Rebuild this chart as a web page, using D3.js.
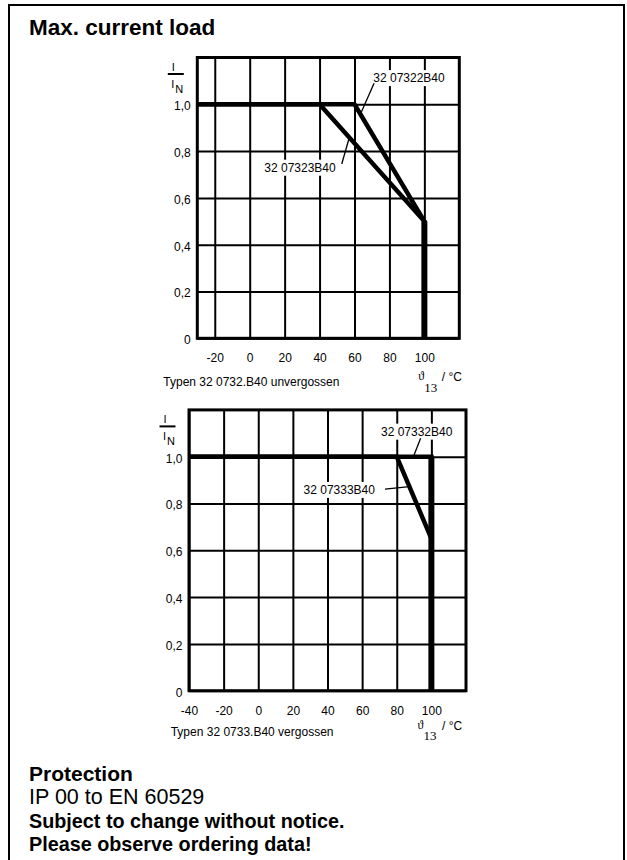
<!DOCTYPE html>
<html>
<head>
<meta charset="utf-8">
<script src="https://cdn.jsdelivr.net/npm/d3@7"></script>
<style>
  body { margin: 0; background: #fff; }
  text { font-family: "Liberation Sans", Arial, sans-serif; fill: #000; }
</style>
</head>
<body>
<svg id="sheet" width="627" height="860"></svg>
<script>
// values
const yTicks = [0, 0.2, 0.4, 0.6, 0.8, 1.0]
const tempTicksA = [-20, 0, 20, 40, 60, 80, 100]
const tempTicksB = [-40, -20, 0, 20, 40, 60, 80, 100]

const curve07322 = [[-30, 1], [60, 1], [100, 0.5], [100, 0]]
const curve07323 = [[-30, 1], [40, 1], [100, 0.5], [100, 0]]
const curve07332 = [[-40, 1], [100, 1], [100, 0]]
const curve07333 = [[-40, 1], [80, 1], [100, 0.65], [100, 0]]

// type labels with their leader lines (data units)
const notesA = [
  {name: "32 07322B40", at: [91.2, 1.112], from: [71.2, 1.09], to: [63.5, 0.96]},
  {name: "32 07323B40", at: [28.8, 0.729], from: [52.7, 0.745], to: [56.9, 0.855]}
]
const notesB = [
  {name: "32 07332B40", at: [91.5, 1.107], from: [93.8, 1.079], to: [89.6, 1.0]},
  {name: "32 07333B40", at: [46.8, 0.858], from: [73.2, 0.861], to: [87.3, 0.872]}
]

const footLines = [
  "Protection",
  "IP 00 to EN 60529",
  "Subject to change without notice.",
  "Please observe ordering data!"
]

const svg = d3.select("#sheet")

// outer box
svg.append("rect")
  .attr("x", 9).attr("y", 5)
  .attr("width", 615).attr("height", 900)
  .attr("fill", "none").attr("stroke", "#000").attr("stroke-width", 2)

svg.append("text")
  .attr("x", 29).attr("y", 35)
  .attr("font-size", 22.5).attr("font-weight", "bold")
  .text("Max. current load")

const fmt = d => d === 0 ? "0" : d3.format(".1f")(d).replace(".", ",")

function drawChart(cfg) {
  const x = d3.scaleLinear().domain(cfg.xDomain).range(cfg.xRange)
  const y = d3.scaleLinear().domain([0, 1.2]).range(cfg.yRange)
  const left = cfg.xRange[0], right = cfg.xRange[1]
  const top = cfg.yRange[1], bottom = cfg.yRange[0]
  const g = svg.append("g")

  // vertical grid + temperature labels
  const ax = g.append("g")
    .attr("transform", `translate(0,${bottom})`)
    .call(d3.axisBottom(x).tickValues(cfg.xTicks).tickSize(-(bottom - top)).tickPadding(15.5).tickFormat(d => d))
  ax.select(".domain").remove()
  ax.selectAll("line").attr("stroke", "#000").attr("stroke-width", 2)
  ax.selectAll("text").attr("font-size", 12).attr("font-family", null)

  // horizontal grid + I/IN labels
  const ay = g.append("g")
    .attr("transform", `translate(${left},0)`)
    .call(d3.axisLeft(y).tickValues(yTicks).tickSize(-(right - left)).tickPadding(6.5).tickFormat(fmt))
  ay.select(".domain").remove()
  ay.selectAll("line").attr("stroke", "#000").attr("stroke-width", 2)
  ay.selectAll("text").attr("font-size", 12).attr("font-family", null).attr("dy", "0.45em")

  // frame
  g.append("rect")
    .attr("x", x(cfg.xDomain[0])).attr("y", y(1.2))
    .attr("width", x(cfg.xDomain[1]) - x(cfg.xDomain[0]))
    .attr("height", y(0) - y(1.2))
    .attr("fill", "none").attr("stroke", "#000").attr("stroke-width", 3)

  // derating curves
  const line = d3.line().x(d => x(d[0])).y(d => y(d[1]))
  g.selectAll("path.curve").data(cfg.curves).join("path")
    .attr("class", "curve")
    .attr("d", line)
    .attr("fill", "none").attr("stroke", "#000")
    .attr("stroke-width", 4.5).attr("stroke-linejoin", "miter")
  g.append("line")
    .attr("x1", x(100)).attr("x2", x(100))
    .attr("y1", y(cfg.thickFrom)).attr("y2", y(0))
    .attr("stroke", "#000").attr("stroke-width", 6)

  // labels on white patches + leaders
  cfg.notes.forEach(n => {
    const t = g.append("text")
      .attr("x", x(n.at[0])).attr("y", y(n.at[1]))
      .attr("text-anchor", "middle").attr("dominant-baseline", "central")
      .attr("font-size", 12).text(n.name)
    const b = t.node().getBBox()
    g.insert("rect", () => t.node())
      .attr("x", b.x - 2).attr("y", b.y - 1)
      .attr("width", b.width + 4).attr("height", b.height + 2)
      .attr("fill", "#fff")
    g.append("line")
      .attr("x1", x(n.from[0])).attr("y1", y(n.from[1]))
      .attr("x2", x(n.to[0])).attr("y2", y(n.to[1]))
      .attr("stroke", "#000").attr("stroke-width", 1.3)
  })

  // I / IN
  g.append("text").attr("x", left - 24).attr("y", top + 13.5)
    .attr("text-anchor", "middle").attr("font-size", 11).text("I")
  g.append("line")
    .attr("x1", left - 29.5).attr("x2", left - 13.5)
    .attr("y1", top + 16.5).attr("y2", top + 16.5)
    .attr("stroke", "#000").attr("stroke-width", 2)
  const iN = g.append("text").attr("x", left - 26).attr("y", top + 30.5).attr("font-size", 11)
  iN.append("tspan").text("I")
  iN.append("tspan").attr("dx", 1).attr("dy", 4.5).text("N")

  // ϑ13 / °C as one text
  const u = g.append("text").attr("x", right - cfg.unit[0]).attr("y", bottom + cfg.unit[1])
  u.append("tspan").attr("font-family", "'Liberation Serif', serif").attr("font-size", 12).text("ϑ")
  u.append("tspan").attr("font-family", "'Liberation Serif', serif").attr("font-size", 13)
    .attr("dy", 11.5).text("13")
  u.append("tspan").attr("font-size", 12)
    .attr("x", right - cfg.unit[2]).attr("dy", -10.5).text("/ °C")

  g.append("text")
    .attr("x", left + cfg.caption[0]).attr("y", bottom + cfg.caption[1])
    .attr("font-size", 12).text(cfg.captionText)
}

drawChart({
  xDomain: [-30, 120], xRange: [197.3, 459.3], yRange: [338.3, 57.5],
  xTicks: tempTicksA, curves: [curve07322, curve07323], thickFrom: 0.5,
  notes: notesA, unit: [41, 42, 17.5],
  caption: [-34, 48], captionText: "Typen 32 0732.B40 unvergossen"
})

drawChart({
  xDomain: [-40, 120], xRange: [189, 466], yRange: [690.7, 409.9],
  xTicks: tempTicksB, curves: [curve07332, curve07333], thickFrom: 1.0,
  notes: notesB, unit: [48.5, 38, 24],
  caption: [-18.3, 45.5], captionText: "Typen 32 0733.B40 vergossen"
})

// footer: line 2 is regular, the rest bold
const footSize = [21, 21.5, 19.8, 19.8]
svg.append("g").selectAll("text").data(footLines).join("text")
  .attr("x", 29)
  .attr("y", (d, i) => 781 + i * 23.3)
  .attr("font-size", (d, i) => footSize[i])
  .attr("font-weight", (d, i) => i === 1 ? "normal" : "bold")
  .text(d => d)
</script>
</body>
</html>
